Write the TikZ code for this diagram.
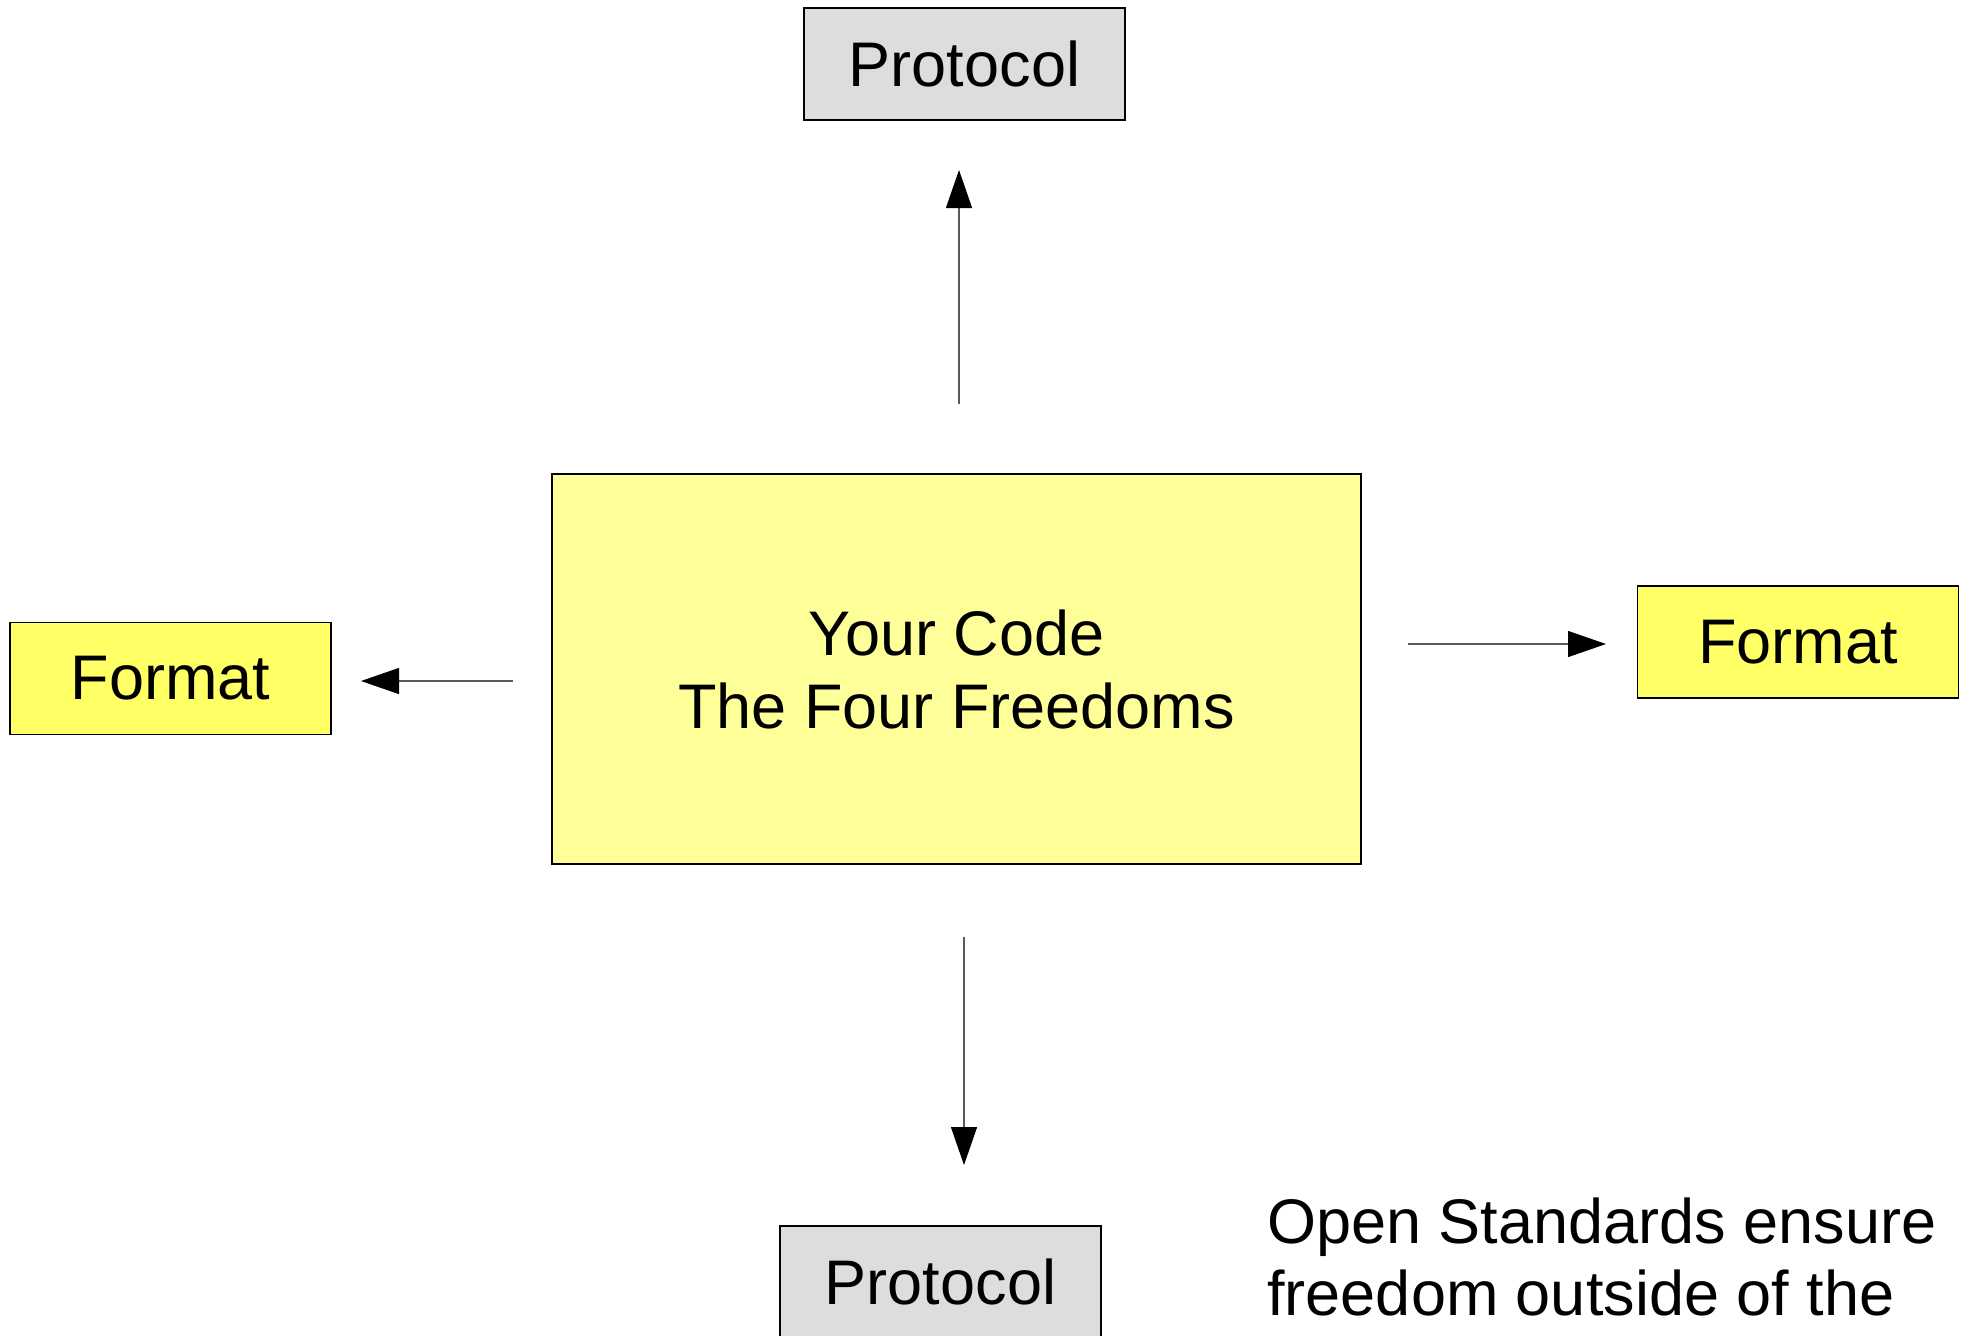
\documentclass[tikz,border=0pt]{standalone}
\usepackage{fontspec}
\setmainfont{Liberation Sans}
\usetikzlibrary{arrows.meta}
\usetikzlibrary{positioning}
\definecolor{codeyellow}{HTML}{FFFF99}
\definecolor{fmtyellow}{HTML}{FFFF66}
\definecolor{protogray}{HTML}{DDDDDD}
\tikzset{box/.style = {draw, line width=0.75pt, inner sep=0,
                       font=\fontsize{31.5}{36.5}\selectfont}}
\tikzset{proto/.style = {box, fill=protogray, minimum width=160.5pt, minimum height=56pt}}
\tikzset{fmt/.style = {box, fill=fmtyellow, minimum width=160.5pt, minimum height=56pt}}
\tikzset{arr/.style = {-{Triangle[length=19pt, width=13pt, color=black]},
                       line width=0.6pt, draw=black!65}}
\begin{document}
\begin{tikzpicture}[x=0.5pt, y=-0.5pt]
    \useasboundingbox (0,0) rectangle (1973,1335);
    \node [box, fill=codeyellow, minimum width=404.5pt, minimum height=195pt, align=center]
      (code) at (956.5,669) {Your Code\\The Four Freedoms};
    \node [proto] (ptop) at (964.5,64) {Protocol};
    \node [proto] (pbot) at (940.5,1282) {Protocol};
    \node [fmt] (fleft) at (170.5,678.5) {Format};
    \node [fmt] (fright) at (1798,642) {Format};
    \node [anchor=base west, align=left, inner sep=0, font=\fontsize{31.5}{36}\selectfont]
      (note) at (1267,1315) {Open Standards ensure\\freedom outside of the};
    \coordinate (up0) at (959,404);
    \coordinate (up1) at (959,170);
    \coordinate (dn0) at (964,937);
    \coordinate (dn1) at (964,1165);
    \coordinate (lt0) at (513,681);
    \coordinate (lt1) at (361,681);
    \coordinate (rt0) at (1408,644);
    \coordinate (rt1) at (1606,644);
    \foreach \a/\b in {up0/up1, dn0/dn1, lt0/lt1, rt0/rt1}
      \draw [arr] (\a) -- (\b);
  \end{tikzpicture}
\end{document}
